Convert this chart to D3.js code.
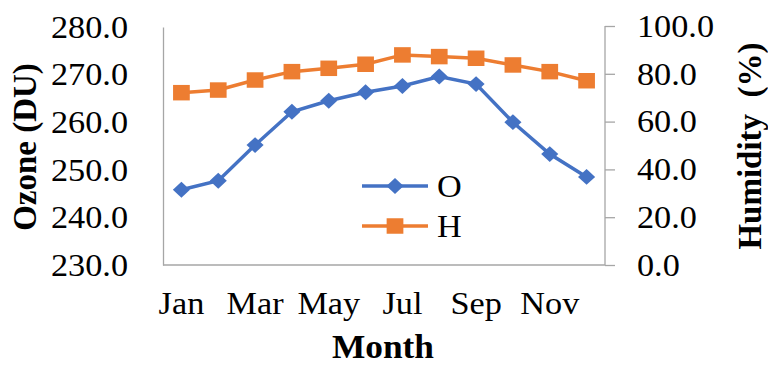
<!DOCTYPE html>
<html><head><meta charset="utf-8">
<script src="https://cdn.jsdelivr.net/npm/d3@7"></script>
<style>body{margin:0;background:#fff}svg{display:block}text{font-family:"Liberation Serif","Times New Roman",serif;fill:#000}</style>
</head><body><svg id="c" width="768" height="366"></svg>
<script>
const months = ["Jan","Feb","Mar","Apr","May","Jun","Jul","Aug","Sep","Oct","Nov","Dec"];
const monthTicks = ["Jan","Mar","May","Jul","Sep","Nov"];
const ozone = [245.8, 247.7, 255.2, 262.2, 264.5, 266.3, 267.6, 269.6, 268.0, 260.0, 253.3, 248.5];
const humidity = [72.1, 73.2, 77.4, 80.9, 82.3, 84.0, 87.9, 87.2, 86.5, 83.7, 80.9, 77.1];
const ozoneTicks = [230, 240, 250, 260, 270, 280];
const humTicks = [0, 20, 40, 60, 80, 100];
const seriesNames = ["O", "H"];

const svg = d3.select("#c");
const L = 163, R = 605, T = 27, B = 265;
const x = d3.scaleBand().domain(months).range([L, R]);
const yL = d3.scaleLinear().domain([230, 280]).range([B, T]);
const yR = d3.scaleLinear().domain([0, 100]).range([B, T - 1]);
const axisColor = "#a6a6a6";
const fs = 32;

// left axis
const gl = svg.append("g").attr("transform", `translate(${L},0)`)
  .call(d3.axisLeft(yL).tickValues(ozoneTicks).tickFormat(d3.format(".1f")).tickSize(0).tickPadding(35));
gl.select(".domain").attr("stroke", axisColor).attr("stroke-width", 1.3);
gl.selectAll("text").style("font-size", fs + "px").attr("fill", "#000").classed("hs", true);

// right axis
const gr = svg.append("g").attr("transform", `translate(${R},0)`)
  .call(d3.axisRight(yR).tickValues(humTicks).tickFormat(d3.format(".1f")).tickSize(10).tickPadding(22));
gr.select(".domain").attr("stroke", axisColor).attr("stroke-width", 1.3).attr("d", `M0,${T-1}H0V${B}`);
gr.selectAll("line").attr("stroke", axisColor).attr("stroke-width", 1.3);
gr.selectAll("text").style("font-size", fs + "px").attr("fill", "#000").classed("hs", true);

// bottom axis
const gb = svg.append("g").attr("transform", `translate(0,${B})`)
  .call(d3.axisBottom(x).tickValues(monthTicks).tickSize(0).tickPadding(26));
gb.select(".domain").attr("stroke", axisColor).attr("stroke-width", 1.3).attr("d", `M${L},0H${R}`);
gb.selectAll("text").style("font-size", fs + "px").attr("fill", "#000").classed("hs", true);

// titles
svg.append("text").attr("transform", `translate(25,147) rotate(-90)`).attr("text-anchor", "middle")
  .attr("dominant-baseline", "central").style("font-size", "33px").style("font-weight", "bold").text("Ozone (DU)");
svg.append("text").attr("transform", `translate(750,146) rotate(-90)`).attr("text-anchor", "middle")
  .attr("dominant-baseline", "central").style("font-size", "33px").style("font-weight", "bold")
  .style("white-space", "pre").text("Humidity  (%)");
svg.append("text").attr("x", 383).attr("y", 358).attr("text-anchor", "middle").classed("hs", true)
  .style("font-size", "33px").style("font-weight", "bold").text("Month");

const blue = "#4472C4", orange = "#ED7D31";
const cx = d => x(d) + x.bandwidth() / 2;
const lineO = d3.line().x((d, i) => cx(months[i])).y(d => yL(d));
const lineH = d3.line().x((d, i) => cx(months[i])).y(d => yR(d));

svg.append("path").attr("d", lineH(humidity)).attr("fill", "none").attr("stroke", orange).attr("stroke-width", 3.5);
svg.append("path").attr("d", lineO(ozone)).attr("fill", "none").attr("stroke", blue).attr("stroke-width", 3.5);

const diamond = d3.symbol().type(d3.symbolDiamond2).size(160);
const square = d3.symbol().type(d3.symbolSquare).size(240);

svg.append("g").selectAll("path").data(humidity).join("path")
  .attr("d", square).attr("fill", orange)
  .attr("transform", (d, i) => `translate(${cx(months[i])},${yR(d)}) scale(1.08,1)`);
svg.append("g").selectAll("path").data(ozone).join("path")
  .attr("d", diamond).attr("fill", blue)
  .attr("transform", (d, i) => `translate(${cx(months[i])},${yL(d)}) scale(1.08,1)`);

// legend
const leg = [{name: seriesNames[0], c: blue, s: diamond, y: 186}, {name: seriesNames[1], c: orange, s: square, y: 226}];
leg.forEach(l => {
  svg.append("line").attr("x1", 362).attr("x2", 428).attr("y1", l.y).attr("y2", l.y).attr("stroke", l.c).attr("stroke-width", 3.5);
  svg.append("path").attr("d", l.s).attr("fill", l.c).attr("transform", `translate(395,${l.y}) scale(1.08,1)`);
  svg.append("text").attr("x", 437).attr("y", l.y).attr("dominant-baseline", "central").classed("hs", true)
    .style("font-size", fs + "px").text(l.name);
});

// horizontal stretch of text to match reference proportions
svg.selectAll("text.hs").each(function() {
  const w = this.getComputedTextLength();
  d3.select(this).attr("textLength", w * 1.07).attr("lengthAdjust", "spacingAndGlyphs");
});
</script></body></html>
